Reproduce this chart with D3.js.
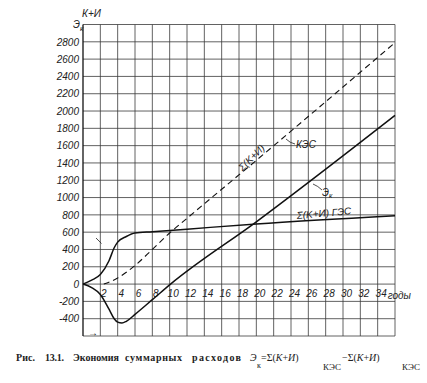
<!DOCTYPE html>
<html>
<head>
<meta charset="utf-8">
<script src="https://cdn.jsdelivr.net/npm/d3@7"></script>
<style>
  body { margin: 0; background: #fff; }
  svg { display: block; }
  .lbl { font-family: "Liberation Sans", Arial, sans-serif; font-style: italic; font-size: 10px; fill: #222; }
  .cap { font-family: "Liberation Serif", "DejaVu Serif", serif; font-size: 10px; fill: #222; }
</style>
</head>
<body>
<svg id="chart"></svg>
<script>
// data
const yTicks = [2800, 2600, 2400, 2200, 2000, 1800, 1600, 1400, 1200, 1000, 800, 600, 400, 200, 0, -200, -400];
const xTicks = [2, 4, 6, 8, 10, 12, 14, 16, 18, 20, 22, 24, 26, 28, 30, 32, 34];

const gesYears = [0, 1, 2, 3, 3.6, 4, 5, 6, 8, 12, 20, 36];
const gesValues = [0, 45, 110, 270, 420, 485, 550, 590, 605, 635, 695, 790];

const kesYears = [2.4, 4, 6, 8, 10, 12, 20, 36];
const kesValues = [0, 70, 215, 400, 590, 760, 1430, 2790];

const ekYears = [0, 1, 2, 3, 3.6, 4, 4.5, 5, 6, 8, 10.1, 20, 36];
const ekValues = [0, -40, -120, -290, -400, -440, -450, -430, -350, -180, 0, 720, 1950];

const W = 427, H = 383;
const svg = d3.select("#chart").attr("width", W).attr("height", H);

const x = d3.scaleLinear().domain([0, 36]).range([83, 395]);
const y = d3.scaleLinear().domain([-600, 3000]).range([336, 24.5]);

// grid
const grid = svg.append("g").attr("stroke", "#3a3a3a").attr("stroke-width", 0.8);
d3.range(2, 37, 2).forEach(function (d) {
  grid.append("line")
    .attr("x1", x(d)).attr("x2", x(d))
    .attr("y1", y(-600)).attr("y2", y(3000));
});
d3.range(-600, 3001, 200).forEach(function (d) {
  grid.append("line")
    .attr("x1", x(0)).attr("x2", x(36))
    .attr("y1", y(d)).attr("y2", y(d));
});
// left axis line
svg.append("line")
  .attr("x1", x(0)).attr("x2", x(0))
  .attr("y1", y(-600)).attr("y2", y(3000))
  .attr("stroke", "#111").attr("stroke-width", 1.3);

// Y axis labels
const yAxis = d3.axisLeft(y).tickValues(yTicks).tickSize(0).tickPadding(4)
  .tickFormat(d => String(d));
svg.append("g")
  .attr("transform", `translate(${x(0)},0)`)
  .call(yAxis)
  .call(g => g.select(".domain").remove())
  .selectAll("text")
  .attr("class", "lbl")
  .attr("font-family", null).attr("font-size", null);

// X axis labels (under the zero line)
const xAxis = d3.axisBottom(x).tickValues(xTicks).tickSize(0).tickPadding(6);
svg.append("g")
  .attr("transform", `translate(3,${y(0)})`)
  .call(xAxis)
  .call(g => g.select(".domain").remove())
  .selectAll("text")
  .attr("class", "lbl")
  .attr("font-family", null).attr("font-size", null);

svg.append("text").attr("class", "lbl")
  .attr("x", x(34) + 10).attr("y", y(0) + 15)
  .text("годы");

// axis title
svg.append("text").attr("class", "lbl")
  .attr("x", 82).attr("y", 17).text("К+И");
const eTitle = svg.append("text").attr("class", "lbl").attr("x", 73).attr("y", 28);
eTitle.append("tspan").text("Э");
eTitle.append("tspan").attr("dy", 3).attr("font-size", "7px").text("к");

// curves
const line = d3.line()
  .x(d => x(d[0]))
  .y(d => y(d[1]))
  .curve(d3.curveMonotoneX);

svg.append("path")
  .attr("d", line(d3.zip(gesYears, gesValues)))
  .attr("fill", "none").attr("stroke", "#111").attr("stroke-width", 1.5);

svg.append("path")
  .attr("d", line(d3.zip(kesYears, kesValues)))
  .attr("fill", "none").attr("stroke", "#111").attr("stroke-width", 1.1)
  .attr("stroke-dasharray", "6,4");

svg.append("path")
  .attr("d", line(d3.zip(ekYears, ekValues)))
  .attr("fill", "none").attr("stroke", "#111").attr("stroke-width", 1.5);

// curve labels and leaders
svg.append("line")
  .attr("x1", 96).attr("y1", 238).attr("x2", 101.5).attr("y2", 243.5)
  .attr("stroke", "#222").attr("stroke-width", 0.8);

svg.append("text").attr("class", "lbl")
  .attr("transform", "translate(254,160) rotate(-45)")
  .attr("text-anchor", "middle")
  .text("Σ(K+И)");

svg.append("path")
  .attr("d", "M286,139 Q290,143 295,144")
  .attr("fill", "none").attr("stroke", "#222").attr("stroke-width", 0.8);
svg.append("text").attr("class", "lbl")
  .attr("x", 296).attr("y", 148).attr("font-size", "9px").text("КЭС");

svg.append("path")
  .attr("d", "M313,184 Q318,186 322,190")
  .attr("fill", "none").attr("stroke", "#222").attr("stroke-width", 0.8);
const ekLbl = svg.append("text").attr("class", "lbl").attr("x", 322).attr("y", 196);
ekLbl.append("tspan").text("Э");
ekLbl.append("tspan").attr("dy", 2).attr("font-size", "7px").text("к");

svg.append("text").attr("class", "lbl")
  .attr("transform", "translate(297,219) rotate(-5)")
  .text("Σ(K+И) ГЭС");

// small arrow at the bottom left
svg.append("text").attr("class", "cap")
  .attr("x", 88).attr("y", 336).attr("font-size", "7px").text("→");

// caption
const capWords = [
  { t: "Рис.", x: 16, w: 19 },
  { t: "13.1.", x: 45, w: 19 },
  { t: "Экономия", x: 73, w: 46 },
  { t: "суммарных", x: 125, w: 57 },
  { t: "расходов", x: 192, w: 49 }
];
capWords.forEach(function (c) {
  svg.append("text").attr("class", "cap")
    .attr("x", c.x).attr("y", 361)
    .attr("font-weight", "bold")
    .attr("textLength", c.w).attr("lengthAdjust", "spacing")
    .text(c.t);
});
const f = svg.append("text").attr("class", "cap").attr("y", 361).attr("font-size", "11px");
f.append("tspan").attr("x", 250).attr("font-style", "italic").text("Э");
f.append("tspan").attr("x", 257).attr("y", 368).attr("font-size", "8px").text("к");
f.append("tspan").attr("x", 261).attr("y", 361).text("=Σ(");
f.append("tspan").attr("font-style", "italic").text("K");
f.append("tspan").text("+");
f.append("tspan").attr("font-style", "italic").text("И");
f.append("tspan").text(")");
f.append("tspan").attr("x", 323).attr("y", 370).attr("font-size", "9px").text("КЭС");
f.append("tspan").attr("x", 342).attr("y", 361).text("−Σ(");
f.append("tspan").attr("font-style", "italic").text("K");
f.append("tspan").text("+");
f.append("tspan").attr("font-style", "italic").text("И");
f.append("tspan").text(")");
f.append("tspan").attr("x", 402).attr("y", 370).attr("font-size", "9px").text("КЭС");
</script>
</body>
</html>
